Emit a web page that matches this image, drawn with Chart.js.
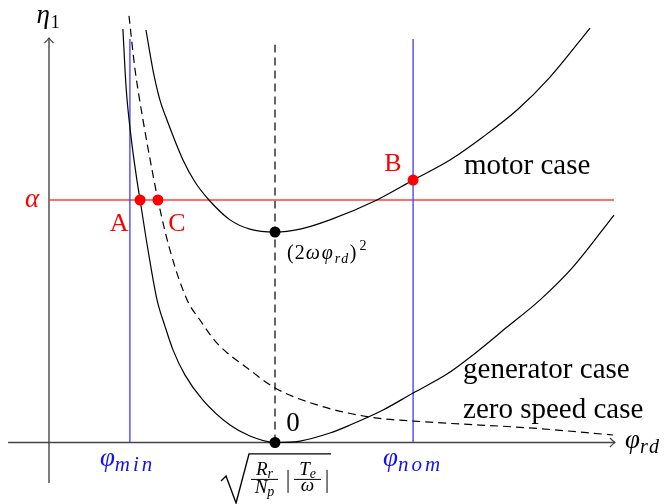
<!DOCTYPE html>
<html>
<head>
<meta charset="utf-8">
<script src="https://cdn.jsdelivr.net/npm/chart.js@4.4.1/dist/chart.umd.min.js"></script>
<style>
html, body { margin: 0; padding: 0; background: #fff; }
#wrap { width: 671px; height: 504px; }
</style>
</head>
<body>
<div id="wrap"><canvas id="myChart"></canvas></div>
<script>
// x in units of sqrt(Rr/Np |Te/w|), y in units of alpha
const generatorX = [0.327, 0.341, 0.363, 0.389, 0.403, 0.438, 0.478, 0.513, 0.549, 0.602, 0.681, 0.801, 0.889, 1.000, 1.111, 1.243, 1.332, 1.478, 1.611, 1.761, 1.876, 2.027, 2.173, 2.319, 2.500];
const generatorY = [1.705, 1.466, 1.260, 1.082, 1.000, 0.794, 0.588, 0.480, 0.381, 0.278, 0.175, 0.072, 0.027, 0.000, 0.006, 0.039, 0.072, 0.134, 0.204, 0.282, 0.361, 0.476, 0.588, 0.724, 0.938];

const motorX = [0.429, 0.460, 0.491, 0.522, 0.593, 0.646, 0.708, 0.801, 0.889, 1.000, 1.111, 1.243, 1.451, 1.611, 1.774, 1.920, 2.071, 2.217, 2.394];
const motorY = [1.701, 1.536, 1.412, 1.330, 1.165, 1.074, 1.000, 0.918, 0.880, 0.868, 0.880, 0.918, 1.000, 1.082, 1.165, 1.260, 1.371, 1.507, 1.709];

const zeroX = [0.354, 0.381, 0.416, 0.456, 0.482, 0.535, 0.611, 0.668, 0.743, 0.889, 1.000, 1.186, 1.420, 1.686, 2.128, 2.496];
const zeroY = [1.759, 1.536, 1.330, 1.124, 1.000, 0.794, 0.588, 0.505, 0.410, 0.299, 0.225, 0.155, 0.105, 0.084, 0.060, 0.031];

const alpha = 1;
const phiMin = 0.358;
const phiNom = 1.611;
const phiStar = 1;
const minMotor = 0.868;
const pointA = [0.403, 1];
const pointC = [0.482, 1];
const pointB = [1.611, 1.082];
const lineTop = 1.664;
const dashTop = 1.64;
const alphaEnd = 2.5;
const xAxis = [-0.181, 2.504];
const yAxis = [-0.167, 1.668];

function pts(xs, ys) {
    return xs.map((x, i) => ({ x: x, y: ys[i] }));
}

const SERIF = '"Liberation Serif", "DejaVu Serif", serif';

function fnt(size, italic) {
    return (italic ? 'italic ' : '') + size + 'px ' + SERIF;
}

// parts: [text, size, italic, dy, letterSpacing, gapBefore]
function mathText(ctx, x, y, parts, align) {
    const widthOf = p => {
        ctx.font = fnt(p[1], p[2]);
        ctx.letterSpacing = '0px';
        return ctx.measureText(p[0]).width + (p[4] || 0) * p[0].length + (p[5] || 0);
    };
    let w = 0;
    parts.forEach(p => { w += widthOf(p); });
    let cx = align === 'center' ? x - w / 2 : x;
    ctx.textAlign = 'left';
    ctx.textBaseline = 'alphabetic';
    parts.forEach(p => {
        const pw = widthOf(p);
        ctx.font = fnt(p[1], p[2]);
        ctx.letterSpacing = (p[4] || 0) + 'px';
        ctx.fillText(p[0], cx + (p[5] || 0), y + (p[3] || 0));
        cx += pw;
    });
    ctx.letterSpacing = '0px';
}

function arrow(ctx, x, y, dir) {
    ctx.save();
    ctx.translate(x, y);
    ctx.rotate(dir);
    ctx.beginPath();
    ctx.moveTo(-5, -4.5);
    ctx.quadraticCurveTo(-1.5, -1, 0, 0);
    ctx.quadraticCurveTo(-1.5, 1, -5, 4.5);
    ctx.stroke();
    ctx.restore();
}

const labelsPlugin = {
    id: 'labels',
    afterDatasetsDraw(chart) {
        const ctx = chart.ctx;
        const sx = chart.scales.x, sy = chart.scales.y;
        const X = v => sx.getPixelForValue(v);
        const Y = v => sy.getPixelForValue(v);
        ctx.save();

        // axis arrows
        ctx.strokeStyle = '#444';
        ctx.lineWidth = 1.2;
        arrow(ctx, X(xAxis[1]), Y(0), 0);
        arrow(ctx, X(0), Y(yAxis[1]), -Math.PI / 2);

        ctx.fillStyle = '#000';
        mathText(ctx, X(-0.004), Y(1.730), [['η', 27, true], ['1', 18, false, 5, 0, 1]], 'center');
        mathText(ctx, X(2.549), Y(-0.023), [['φ', 27, true], ['rd', 20, true, 5, 2]], 'left');

        ctx.fillStyle = 'red';
        mathText(ctx, X(-0.075), Y(0.971), [['α', 27, true]], 'center');
        mathText(ctx, X(0.310), Y(0.872), [['A', 26, false]], 'center');
        mathText(ctx, X(0.566), Y(0.872), [['C', 26, false]], 'center');
        mathText(ctx, X(1.522), Y(1.120), [['B', 26, false]], 'center');

        ctx.fillStyle = '#000';
        mathText(ctx, X(1.836), Y(1.107), [['motor case', 29, false]], 'left');
        mathText(ctx, X(1.832), Y(0.266), [['generator case', 29, false]], 'left');
        mathText(ctx, X(1.832), Y(0.101), [['zero speed case', 29, false]], 'left');
        mathText(ctx, X(1.080), Y(0.047), [['0', 27, false]], 'center');
        mathText(ctx, X(1.053), Y(0.756), [['(2', 20, false, 0, 1], ['ωφ', 20, true, 0, 2], ['rd', 14, true, 4, 1.5], [')', 20, false], ['2', 14, false, -9, 0, 3]], 'left');

        ctx.fillStyle = '#1010ff';
        mathText(ctx, X(phiMin - 0.01), Y(-0.097), [['φ', 27, true], ['min', 21, true, 5, 3]], 'center');
        mathText(ctx, X(phiNom), Y(-0.097), [['φ', 27, true], ['nom', 21, true, 5, 3]], 'center');

        // sqrt( Rr/Np | Te/w | )
        const cx = X(1.009), top = Y(-0.047);
        ctx.strokeStyle = '#000';
        ctx.fillStyle = '#000';
        ctx.lineWidth = 1.4;
        ctx.beginPath();
        ctx.moveTo(cx - 56, top + 27);
        ctx.lineTo(cx - 51, top + 22);
        ctx.lineTo(cx - 41, top + 49);
        ctx.lineTo(cx - 28, top);
        ctx.lineTo(cx + 54, top);
        ctx.stroke();
        ctx.lineWidth = 1;
        ctx.beginPath();
        ctx.moveTo(cx - 26, top + 25.5); ctx.lineTo(cx + 1, top + 25.5);
        ctx.moveTo(cx + 17, top + 25.5); ctx.lineTo(cx + 44, top + 25.5);
        ctx.moveTo(cx + 11, top + 16); ctx.lineTo(cx + 11, top + 39);
        ctx.moveTo(cx + 50, top + 16); ctx.lineTo(cx + 50, top + 39);
        ctx.stroke();
        mathText(ctx, cx - 12.5, top + 21, [['R', 19, true], ['r', 14, true, 3]], 'center');
        mathText(ctx, cx - 12.5, top + 39, [['N', 19, true], ['p', 14, true, 3]], 'center');
        mathText(ctx, cx + 30.5, top + 21, [['T', 19, true], ['e', 14, true, 3]], 'center');
        mathText(ctx, cx + 30.5, top + 37, [['ω', 19, true]], 'center');

        ctx.restore();
    }
};

const thin = { showLine: true, pointRadius: 0, tension: 0, clip: false };

const datasets = [
    { data: [{ x: pointA[0], y: pointA[1] }, { x: pointC[0], y: pointC[1] }, { x: pointB[0], y: pointB[1] }],
      pointRadius: 5.5, pointBackgroundColor: 'red', pointBorderWidth: 0, showLine: false, clip: false },
    { data: [{ x: phiStar, y: minMotor }, { x: phiStar, y: 0 }],
      pointRadius: 5.5, pointBackgroundColor: '#000', pointBorderWidth: 0, showLine: false, clip: false },
    Object.assign({ data: pts(motorX, motorY), borderColor: '#000', borderWidth: 1.2, cubicInterpolationMode: 'monotone' }, thin, { tension: 0.4 }),
    Object.assign({ data: pts(generatorX, generatorY), borderColor: '#000', borderWidth: 1.2, cubicInterpolationMode: 'monotone' }, thin, { tension: 0.4 }),
    Object.assign({ data: pts(zeroX, zeroY), borderColor: '#000', borderWidth: 1.2, borderDash: [8, 5], cubicInterpolationMode: 'monotone' }, thin, { tension: 0.4 }),
    Object.assign({ data: [{ x: phiMin, y: 0 }, { x: phiMin, y: lineTop }], borderColor: '#3c3cff', borderWidth: 1.3 }, thin),
    Object.assign({ data: [{ x: phiNom, y: 0 }, { x: phiNom, y: lineTop }], borderColor: '#3c3cff', borderWidth: 1.3 }, thin),
    Object.assign({ data: [{ x: 0, y: alpha }, { x: alphaEnd, y: alpha }], borderColor: '#ff4040', borderWidth: 1.3 }, thin),
    Object.assign({ data: [{ x: phiStar, y: 0 }, { x: phiStar, y: dashTop }], borderColor: '#000', borderWidth: 1.2, borderDash: [8, 5] }, thin),
    Object.assign({ data: [{ x: xAxis[0], y: 0 }, { x: xAxis[1], y: 0 }], borderColor: '#444', borderWidth: 1.4 }, thin),
    Object.assign({ data: [{ x: 0, y: yAxis[0] }, { x: 0, y: yAxis[1] }], borderColor: '#444', borderWidth: 1.4 }, thin),
];

const myChart = new Chart(document.getElementById('myChart'), {
    type: 'scatter',
    data: { datasets: datasets },
    options: {
        responsive: true,
        maintainAspectRatio: false,
        animation: false,
        layout: { padding: 0, autoPadding: false },
        plugins: { legend: { display: false }, tooltip: { enabled: false } },
        scales: {
            x: { type: 'linear', display: false, min: -0.2168, max: 2.7522 },
            y: { type: 'linear', display: false, min: -0.2536, max: 1.8247 }
        }
    },
    plugins: [labelsPlugin]
});
</script>
</body>
</html>
